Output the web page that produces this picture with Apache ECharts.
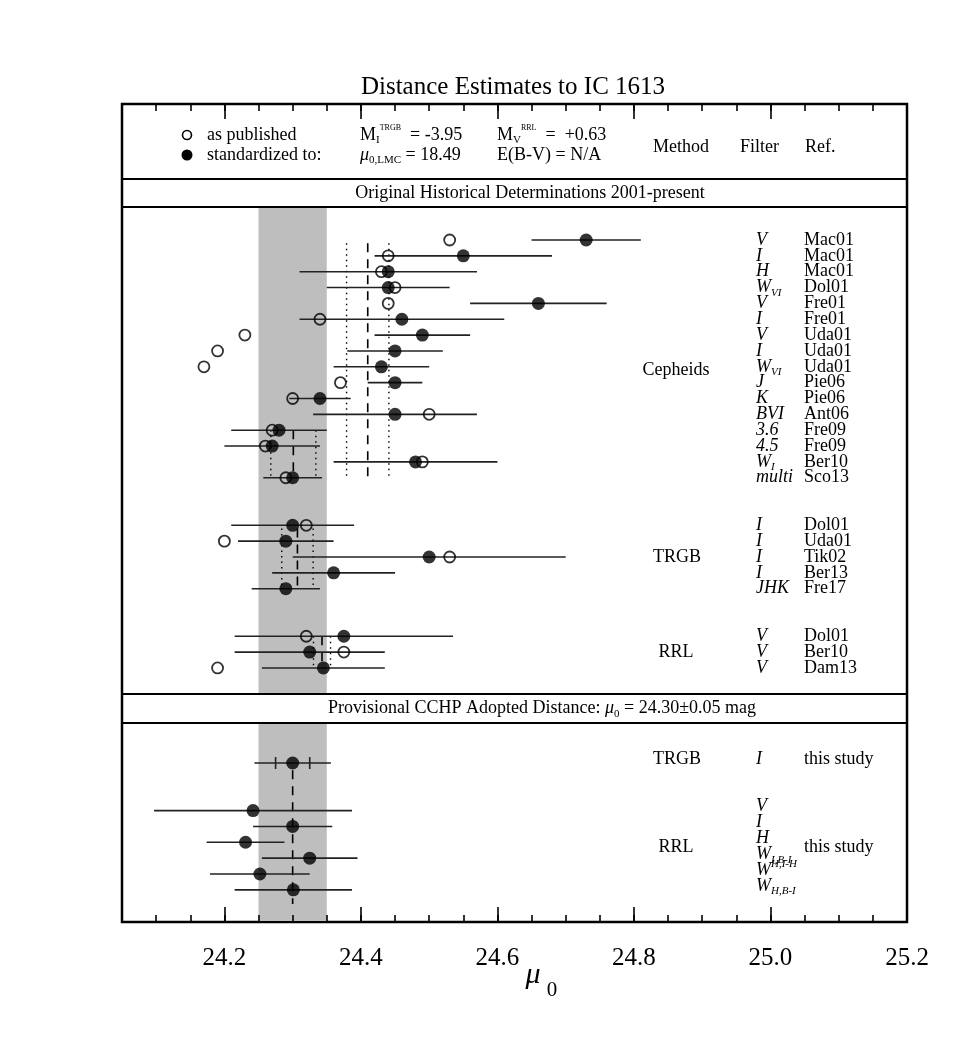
<!DOCTYPE html>
<html>
<head>
<meta charset="utf-8">
<script src="https://cdn.jsdelivr.net/npm/echarts@6/dist/echarts.min.js"></script>
<style>
  html, body { margin: 0; padding: 0; background: #fff; }
  #chart { width: 978px; height: 1054px; }
</style>
</head>
<body>
<div id="chart"></div>
<script>
// axis ticks
const tickValues = [24.2, 24.4, 24.6, 24.8, 25.0, 25.2]
const tickLabels = ['24.2', '24.4', '24.6', '24.8', '25.0', '25.2']

// Cepheids (historical)
const cepFilters = ['V', 'I', 'H', 'W_VI', 'V', 'I', 'V', 'I', 'W_VI', 'J', 'K', 'BVI', '3.6', '4.5', 'W_I', 'multi']
const cepRefs = ['Mac01', 'Mac01', 'Mac01', 'Dol01', 'Fre01', 'Fre01', 'Uda01', 'Uda01', 'Uda01', 'Pie06', 'Pie06', 'Ant06', 'Fre09', 'Fre09', 'Ber10', 'Sco13']
const cepPublished = [24.53, 24.44, 24.43, 24.45, 24.44, 24.34, 24.23, 24.19, 24.17, 24.37, 24.30, 24.50, 24.27, 24.26, 24.49, 24.29]
const cepStandard = [24.73, 24.55, 24.44, 24.44, 24.66, 24.46, 24.49, 24.45, 24.43, 24.45, 24.34, 24.45, 24.28, 24.27, 24.48, 24.30]
const cepError = [0.08, 0.13, 0.13, 0.09, 0.10, 0.15, 0.07, 0.07, 0.07, 0.04, 0.045, 0.12, 0.07, 0.07, 0.12, 0.043]
const cepRows = [0, 1, 2, 3, 4, 5, 6, 7, 8, 9, 10, 11, 12, 13, 14, 15]

// TRGB (historical)
const trgbFilters = ['I', 'I', 'I', 'I', 'JHK']
const trgbRefs = ['Dol01', 'Uda01', 'Tik02', 'Ber13', 'Fre17']
const trgbPublished = [24.32, 24.20, 24.53, null, null]
const trgbStandard = [24.30, 24.29, 24.50, 24.36, 24.29]
const trgbError = [0.09, 0.07, 0.20, 0.09, 0.05]
const trgbRows = [18, 19, 20, 21, 22]

// RR Lyrae (historical)
const rrlFilters = ['V', 'V', 'V']
const rrlRefs = ['Dol01', 'Ber10', 'Dam13']
const rrlPublished = [24.32, 24.375, 24.19]
const rrlStandard = [24.375, 24.325, 24.345]
const rrlError = [0.16, 0.11, 0.09]
const rrlRows = [25, 26, 27]

// this study
const thisTrgb = [24.30]
const thisTrgbStat = [0.025]
const thisTrgbError = [0.056]
const thisTrgbRows = [33]
const thisRrlFilters = ['V', 'I', 'H', 'W_I,B-I', 'W^H,I-H', 'W_H,B-I']
const thisRrl = [24.242, 24.300, 24.231, 24.325, 24.252, 24.301]
const thisRrlError = [0.145, 0.058, 0.057, 0.07, 0.073, 0.086]
const thisRrlRows = [36, 37, 38, 39, 40, 41]

// group means: centre, error, row span
const meanCenters = [24.41, 24.301, 24.307, 24.343]
const meanErrors = [0.031, 0.033, 0.023, 0.0125]
const meanSpans = [[0.2, 15], [12, 15], [18.2, 22], [25, 27]]

// adopted distance
const adopted = 24.30
const adoptedError = 0.05

const FONT = '"Liberation Serif", "DejaVu Serif", serif'
const Y_MIN = -8.58
const Y_MAX = 43.03
const separators = [-3.85, -2.08, 28.64, 30.47]

const chart = echarts.init(document.getElementById('chart'))

function errorBars(values, errors, rows) {
  return values.map((v, i) => [v - errors[i], v + errors[i], rows[i]])
}
function points(values, rows) {
  return values.map((v, i) => (v == null ? null : [v, rows[i]])).filter(Boolean)
}

const barData = [].concat(
  errorBars(cepStandard, cepError, cepRows),
  errorBars(trgbStandard, trgbError, trgbRows),
  errorBars(rrlStandard, rrlError, rrlRows),
  errorBars(thisTrgb, thisTrgbError, thisTrgbRows),
  errorBars(thisRrl, thisRrlError, thisRrlRows)
)
const openData = [].concat(
  points(cepPublished, cepRows),
  points(trgbPublished, trgbRows),
  points(rrlPublished, rrlRows)
)
const filledData = [].concat(
  points(cepStandard, cepRows),
  points(trgbStandard, trgbRows),
  points(rrlStandard, rrlRows),
  points(thisTrgb, thisTrgbRows),
  points(thisRrl, thisRrlRows)
)
// [x, y0, y1, dashed?]
const meanData = []
meanCenters.forEach((c, i) => {
  const s = meanSpans[i]
  meanData.push([c - meanErrors[i], s[0], s[1], 0])
  meanData.push([c, s[0], s[1], 1])
  meanData.push([c + meanErrors[i], s[0], s[1], 0])
})
meanData.push([thisTrgb[0], thisTrgbRows[0] + 0.45, thisRrlRows[5] + 0.9, 1])

const statTicks = [
  [thisTrgb[0] - thisTrgbStat[0], thisTrgbRows[0]],
  [thisTrgb[0] + thisTrgbStat[0], thisTrgbRows[0]]
]

const bandData = [
  [adopted - adoptedError, adopted + adoptedError, separators[1], separators[2]],
  [adopted - adoptedError, adopted + adoptedError, separators[3], Y_MAX - 0.08]
]

const xBase = {
  type: 'value', min: 24.05, max: 25.2, z: 10,
  splitLine: { show: false }, axisLine: { show: false, onZero: false }
}
const minorTick = { inside: true, length: 7, lineStyle: { color: '#000', width: 1.6 } }
const majorTick = { inside: true, length: 15, customValues: tickValues, lineStyle: { color: '#000', width: 1.6 } }

chart.setOption({
  animation: false,
  grid: {
    left: 122, right: 71, top: 104, bottom: 132,
    show: true, borderColor: '#000', borderWidth: 2.5, backgroundColor: '#fff'
  },
  xAxis: [
    { ...xBase, position: 'bottom', interval: 0.05, axisTick: minorTick, axisLabel: { show: false } },
    {
      ...xBase, position: 'bottom', axisTick: majorTick,
      axisLabel: {
        customValues: tickValues, margin: 24, color: '#000', fontSize: 25, fontFamily: FONT,
        formatter: v => tickLabels[tickValues.findIndex(t => Math.abs(t - v) < 1e-6)]
      }
    },
    { ...xBase, position: 'top', interval: 0.05, axisTick: minorTick, axisLabel: { show: false } },
    { ...xBase, position: 'top', axisTick: majorTick, axisLabel: { show: false } }
  ],
  yAxis: { type: 'value', min: Y_MIN, max: Y_MAX, inverse: true, show: false },
  series: [
    {
      type: 'custom', silent: true, z: 1,
      data: bandData,
      encode: { x: [0, 1], y: [2, 3] },
      renderItem: (params, api) => {
        const a = api.coord([api.value(0), api.value(2)])
        const b = api.coord([api.value(1), api.value(3)])
        return { type: 'rect', shape: { x: a[0], y: a[1], width: b[0] - a[0], height: b[1] - a[1] }, style: { fill: '#bebebe' } }
      },
      markLine: {
        silent: true, symbol: 'none', label: { show: false },
        lineStyle: { color: '#000', width: 2.2, type: 'solid' },
        data: separators.map(r => ({ yAxis: r }))
      }
    },
    {
      type: 'custom', silent: true, z: 2,
      data: meanData,
      encode: { x: 0, y: [1, 2] },
      renderItem: (params, api) => {
        const a = api.coord([api.value(0), api.value(1)])
        const b = api.coord([api.value(0), api.value(2)])
        const dashed = api.value(3) === 1
        return {
          type: 'line', shape: { x1: a[0], y1: a[1], x2: b[0], y2: b[1] },
          style: { stroke: '#000', lineWidth: dashed ? 1.6 : 1.4, lineDash: dashed ? [9, 7] : [1.5, 4] }
        }
      }
    },
    {
      type: 'custom', silent: true, z: 3,
      data: barData,
      encode: { x: [0, 1], y: 2 },
      renderItem: (params, api) => {
        const a = api.coord([api.value(0), api.value(2)])
        const b = api.coord([api.value(1), api.value(2)])
        return { type: 'line', shape: { x1: a[0], y1: a[1], x2: b[0], y2: b[1] }, style: { stroke: '#222', lineWidth: 1.6 } }
      }
    },
    {
      type: 'custom', silent: true, z: 3,
      data: statTicks,
      encode: { x: 0, y: 1 },
      renderItem: (params, api) => {
        const p = api.coord([api.value(0), api.value(1)])
        return { type: 'line', shape: { x1: p[0], y1: p[1] - 6, x2: p[0], y2: p[1] + 6 }, style: { stroke: '#222', lineWidth: 1.6 } }
      }
    },
    {
      type: 'scatter', silent: true, z: 4,
      data: openData, symbol: 'circle', symbolSize: 11,
      itemStyle: { color: 'rgba(0,0,0,0)', borderColor: '#000', borderWidth: 1.8 }
    },
    {
      type: 'scatter', silent: true, z: 5,
      data: filledData, symbol: 'circle', symbolSize: 13,
      itemStyle: { color: '#000' }
    }
  ]
})

// ---- text ----
const yPx = r => chart.convertToPixel({ yAxisIndex: 0 }, r)
const rich = {
  r: { fontFamily: FONT, fontSize: 18, lineHeight: 22, color: '#000' },
  i: { fontFamily: FONT, fontSize: 18, fontStyle: 'italic', lineHeight: 22, color: '#000' },
  s: { fontFamily: FONT, fontSize: 11, fontStyle: 'italic', verticalAlign: 'bottom', color: '#000' },
  u: { fontFamily: FONT, fontSize: 11, fontStyle: 'italic', verticalAlign: 'top', color: '#000' },
  rs: { fontFamily: FONT, fontSize: 11, verticalAlign: 'bottom', color: '#000' },
  ru: { fontFamily: FONT, fontSize: 8, verticalAlign: 'top', color: '#000' }
}
function filterText(f) {
  if (f.indexOf('_') > 0) { const p = f.split('_'); return '{i|' + p[0] + '}{s|' + p[1] + '}' }
  if (f.indexOf('^') > 0) { const p = f.split('^'); return '{i|' + p[0] + '}{u|' + p[1] + '}' }
  return '{i|' + f + '}'
}
function text(x, y, str, align, size, extra) {
  return {
    type: 'text', x: x, y: y, silent: true,
    style: Object.assign({
      text: str, fill: '#000', fontFamily: FONT, fontSize: size || 18,
      align: align || 'left', verticalAlign: 'middle', rich: rich
    }, extra || {})
  }
}

const g = []
g.push(text(513, 87, 'Distance Estimates to IC 1613', 'center', 25))
g.push({ type: 'circle', shape: { cx: 187, cy: 135, r: 4.5 }, style: { fill: 'none', stroke: '#000', lineWidth: 1.6 } })
g.push({ type: 'circle', shape: { cx: 187, cy: 155, r: 5.5 }, style: { fill: '#000' } })
g.push(text(207, 135, 'as published'))
g.push(text(207, 155, 'standardized to:'))
g.push(text(360, 135, '{r|M}{rs|I}{ru|TRGB}{r|  = -3.95}'))
g.push(text(360, 155, '{i|μ}{rs|0,LMC}{r| = 18.49}'))
g.push(text(497, 135, '{r|M}{rs|V}{ru|RRL}{r|  =  +0.63}'))
g.push(text(497, 155, 'E(B-V) = N/A'))
g.push(text(653, 147, 'Method'))
g.push(text(740, 147, 'Filter'))
g.push(text(805, 147, 'Ref.'))
g.push(text(530, (yPx(separators[0]) + yPx(separators[1])) / 2, 'Original Historical Determinations 2001-present', 'center'))
g.push(text(542, (yPx(separators[2]) + yPx(separators[3])) / 2,
  '{r|Provisional CCHP Adopted Distance: }{i|μ}{rs|0}{r| = 24.30±0.05 mag}', 'center'))

function rowLabels(filters, refs, rows, shift) {
  filters.forEach((f, i) => {
    const y = yPx(rows[i]) + (shift || 0)
    g.push(text(756, y, filterText(f)))
    if (refs) g.push(text(804, y, refs[i]))
  })
}
rowLabels(cepFilters, cepRefs, cepRows)
rowLabels(trgbFilters, trgbRefs, trgbRows)
rowLabels(rrlFilters, rrlRefs, rrlRows)
rowLabels(['I'], ['this study'], thisTrgbRows, -4)
rowLabels(thisRrlFilters, null, thisRrlRows, -4)
g.push(text(804, yPx(38.3), 'this study'))

g.push(text(676, yPx(8.25), 'Cepheids', 'center'))
g.push(text(677, yPx(20), 'TRGB', 'center'))
g.push(text(676, yPx(26), 'RRL', 'center'))
g.push(text(677, yPx(32.75), 'TRGB', 'center'))
g.push(text(676, yPx(38.3), 'RRL', 'center'))

g.push(text(533, 975, 'μ', 'center', 30, { fontStyle: 'italic' }))
g.push(text(552, 990, '0', 'center', 21))

chart.setOption({ graphic: g })
</script>
</body>
</html>
